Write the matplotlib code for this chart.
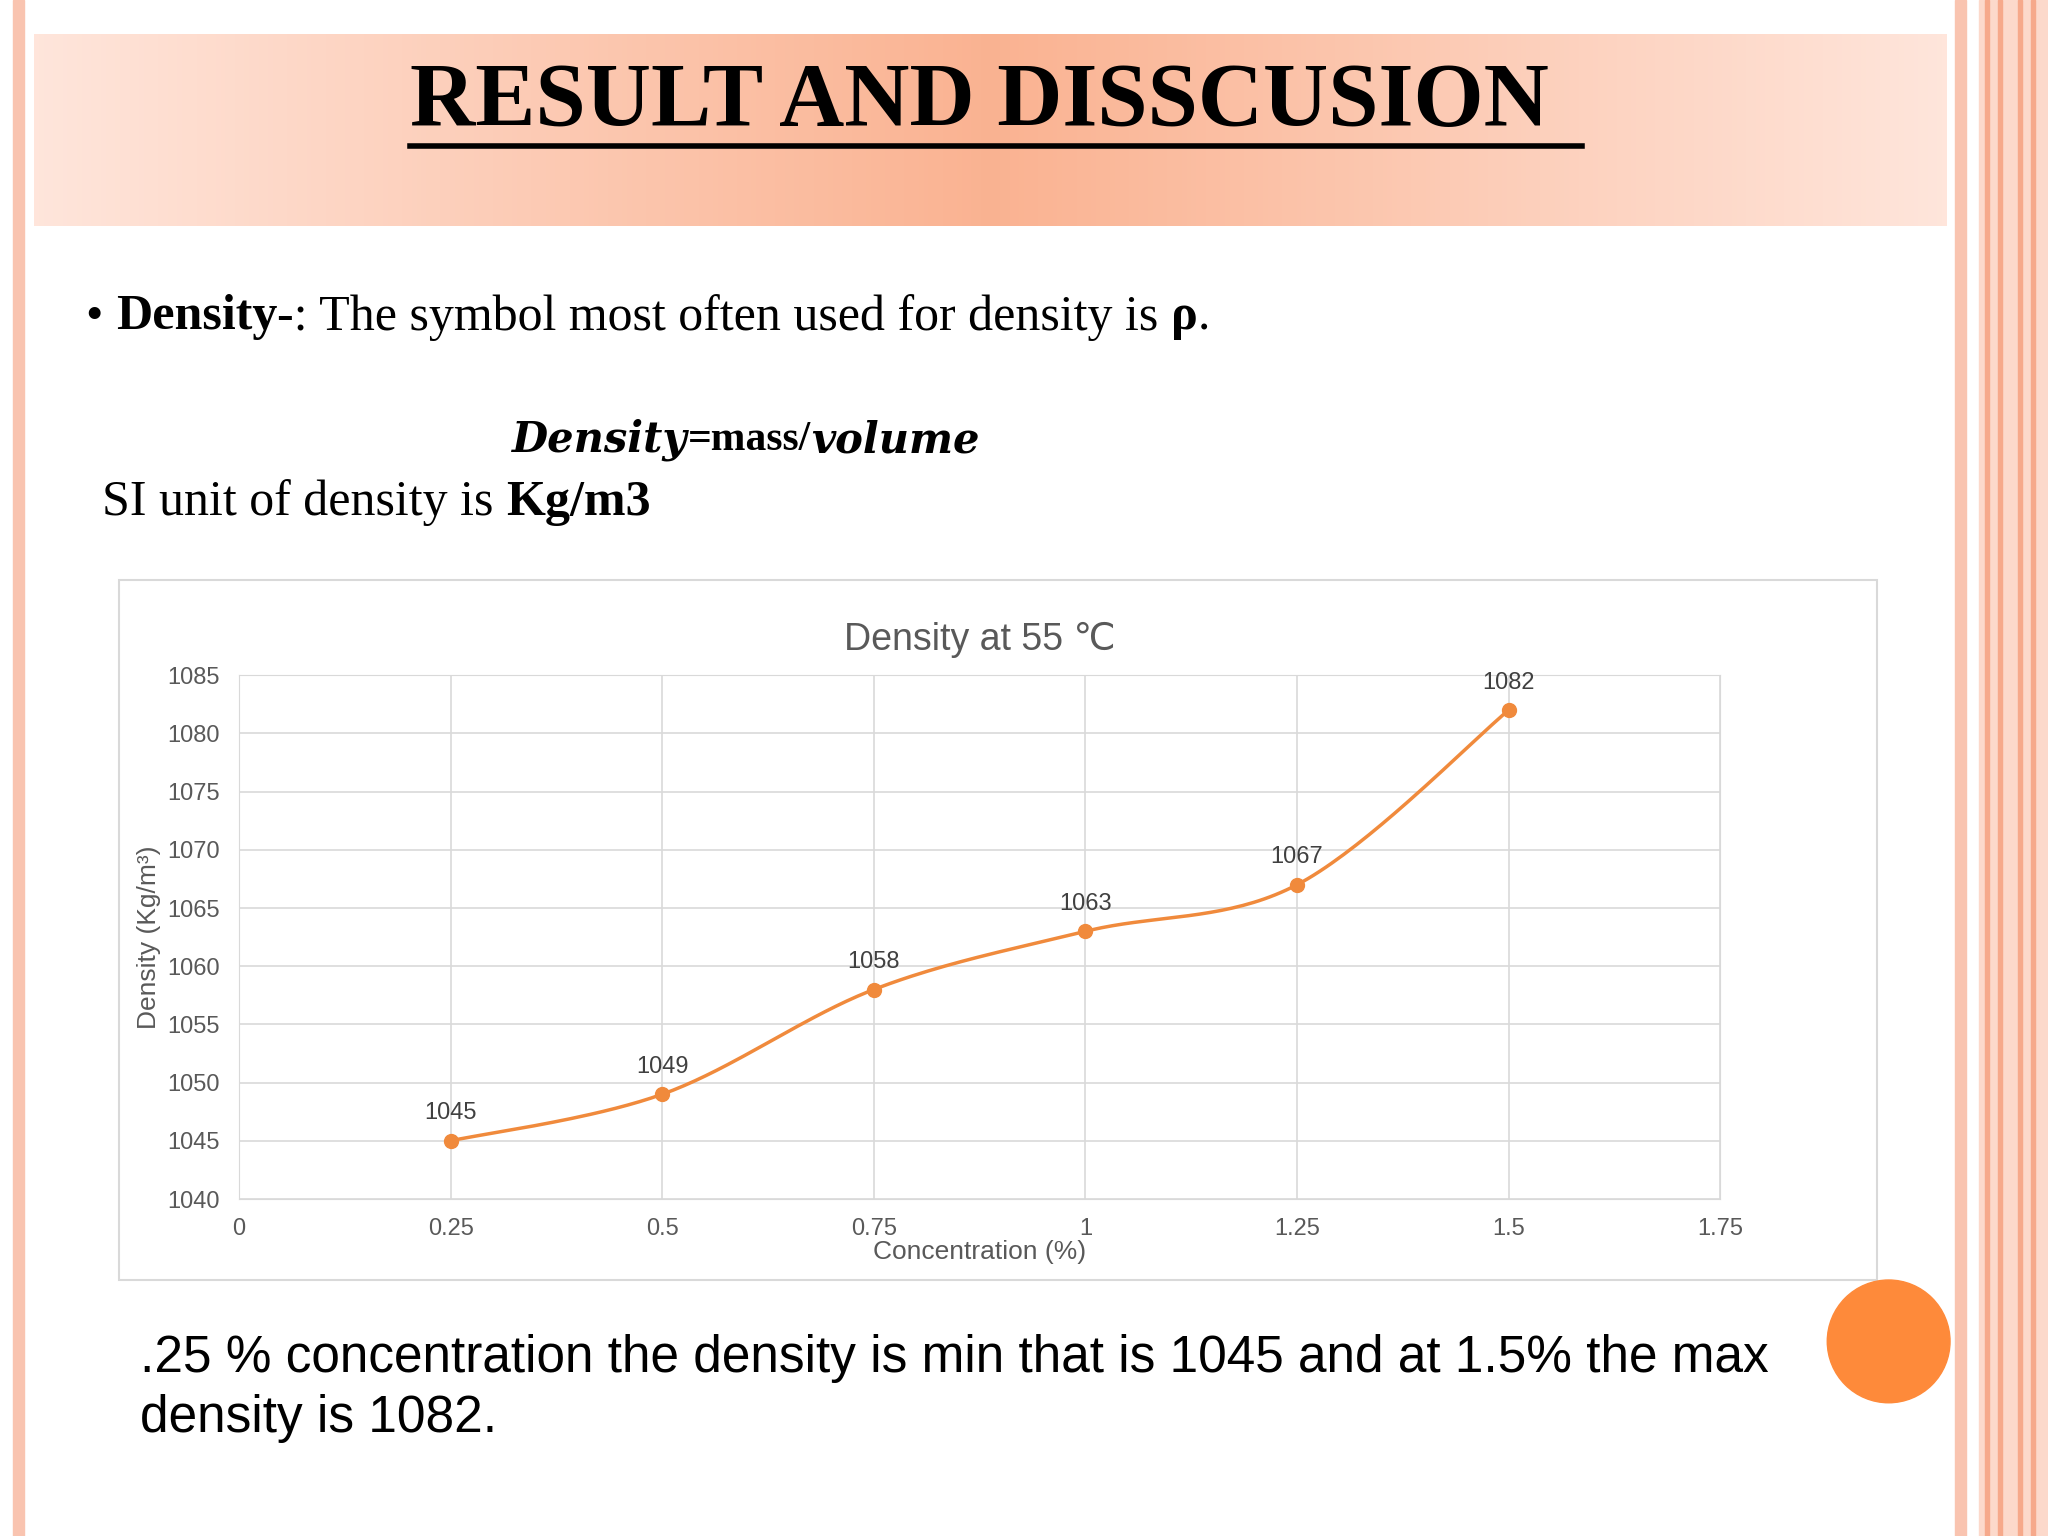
import numpy as np
import matplotlib
matplotlib.use("Agg")
import matplotlib.pyplot as plt
from matplotlib.patches import Rectangle, Circle

concentration = [0.25, 0.5, 0.75, 1.0, 1.25, 1.5]
density = [1045, 1049, 1058, 1063, 1067, 1082]
x_ticks = [0, 0.25, 0.5, 0.75, 1, 1.25, 1.5, 1.75]
x_tick_labels = ["0", "0.25", "0.5", "0.75", "1", "1.25", "1.5", "1.75"]
y_ticks = [1040, 1045, 1050, 1055, 1060, 1065, 1070, 1075, 1080, 1085]

W, H = 1568, 1176
fig = plt.figure(figsize=(20.48, 15.36), dpi=100)
bg = fig.add_axes([0, 0, 1, 1])
bg.set_xlim(0, W); bg.set_ylim(H, 0); bg.axis("off")
renderer = fig.canvas.get_renderer()

def fx(x): return x / W
def fy(y): return 1 - y / H

def runs(x, y, parts, size):
    for txt, fam, wt, st in parts:
        t = bg.text(x, y, txt, fontsize=size, family=fam, fontweight=wt, style=st, va="center")
        ext = t.get_window_extent(renderer)
        x += ext.width * W / fig.bbox.width

# borders
bg.add_patch(Rectangle((10, 0), 8, H, color="#f9c4b0"))
bg.add_patch(Rectangle((1497, 0), 8, H, color="#f9c4b0"))
bg.add_patch(Rectangle((1515, 0), 53, H, color="#fcd9cb"))
for xs in [1520, 1530, 1545, 1555]:
    bg.add_patch(Rectangle((xs, 0), 3, H, color="#f6a98b"))

# header gradient
grad = np.abs(np.linspace(-1, 1, 400))
cols = np.zeros((1, 400, 3))
c_center = np.array([0.98, 0.70, 0.57]); c_edge = np.array([1.0, 0.90, 0.86])
for i, g in enumerate(grad):
    cols[0, i] = c_center * (1 - g) + c_edge * g
bg.imshow(cols, extent=(26, 1490, 173, 26), aspect="auto", zorder=1)
bg.set_xlim(0, W); bg.set_ylim(H, 0)
bg.text(314, 80, "RESULT AND DISSCUSION ", ha="left", va="center",
        fontsize=65, fontweight="bold", family="Liberation Serif", zorder=2)
bg.plot([314, 1211], [112, 112], color="black", lw=4, zorder=2)

S = "Liberation Serif"
runs(66, 243, [("• ", S, "normal", "normal"), ("Density", S, "bold", "normal"),
               ("-: The symbol most often used for density is ", S, "normal", "normal"),
               ("ρ", S, "bold", "normal"), (".", S, "normal", "normal")], 36)
runs(392, 337, [("Density", "DejaVu Serif", "bold", "italic"), ("=mass/", S, "bold", "normal"),
                ("volume", "DejaVu Serif", "bold", "italic")], 30)
runs(78, 385, [("SI unit of density is ", S, "normal", "normal"), ("Kg/m3", S, "bold", "normal")], 36)

bg.add_patch(Rectangle((91, 444), 1346, 536, fill=False, ec="#d9d9d9", lw=1.5))
bg.add_patch(Circle((1446, 1027), 47, color="#fe8a3a"))
bg.text(107, 1040, ".25 % concentration the density is min that is 1045 and at 1.5% the max",
        fontsize=37, family="Liberation Sans", va="center")
bg.text(107, 1086, "density is 1082.", fontsize=37, family="Liberation Sans", va="center")

# chart
CF = "Liberation Sans"
ax = fig.add_axes([fx(183), fy(918), fx(1317) - fx(183), fy(517) - fy(918)])
ax.set_xlim(0, 1.75); ax.set_ylim(1040, 1085)
ax.set_xticks(x_ticks); ax.set_xticklabels(x_tick_labels)
ax.set_yticks(y_ticks)
ax.grid(True, color="#d9d9d9", lw=1.2)
ax.set_axisbelow(True)
for s in ax.spines.values():
    s.set_color("#d9d9d9")
ax.tick_params(length=0, labelsize=17, colors="#595959", pad=14)
for lab in ax.get_xticklabels() + ax.get_yticklabels():
    lab.set_family(CF)

xs = np.array(concentration); ys = np.array(density, dtype=float)
px = np.concatenate([[xs[0]], xs, [xs[-1]]]); py = np.concatenate([[ys[0]], ys, [ys[-1]]])
cx, cy = [], []
t = np.linspace(0, 1, 40)
for i in range(1, len(px) - 2):
    p0, p1, p2, p3 = [np.array([px[j], py[j]]) for j in range(i - 1, i + 3)]
    b1 = p1 + (p2 - p0) / 6; b2 = p2 - (p3 - p1) / 6
    pts = ((1 - t) ** 3)[:, None] * p1 + (3 * (1 - t) ** 2 * t)[:, None] * b1 + \
          (3 * (1 - t) * t ** 2)[:, None] * b2 + (t ** 3)[:, None] * p2
    cx.extend(pts[:, 0]); cy.extend(pts[:, 1])
ax.plot(cx, cy, color="#f08a3c", lw=2.5)
ax.plot(xs, ys, "o", color="#f08a3c", ms=10)
for x, y in zip(xs, ys):
    ax.annotate(str(int(y)), (x, y), xytext=(0, 12), textcoords="offset points",
                ha="center", va="bottom", fontsize=17, color="#404040", family=CF)
ax.set_title("Density at 55 ℃", fontsize=27, color="#595959", pad=18, family=["Liberation Sans", "DejaVu Sans"])
ax.set_xlabel("Concentration (%)", fontsize=19, color="#595959", labelpad=0, family=CF)
ax.set_ylabel("Density (Kg/m³)", fontsize=19, color="#595959", labelpad=4, family=CF)

fig.savefig("out.png", dpi=100)
